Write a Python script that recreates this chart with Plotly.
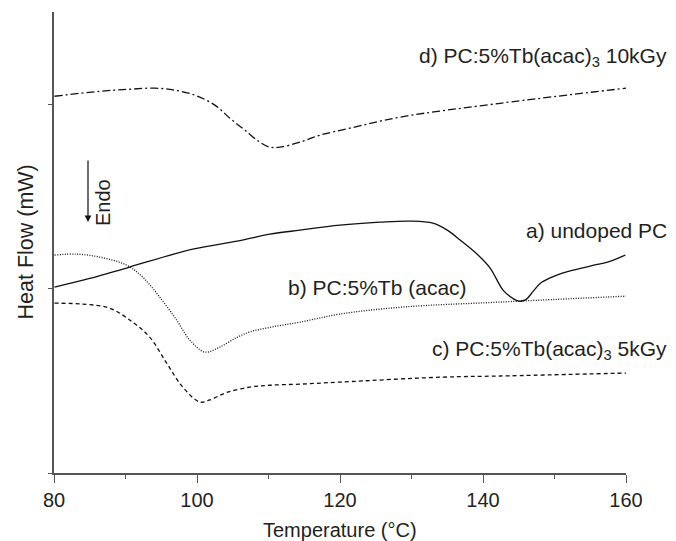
import plotly.graph_objects as go

# Temperature (°C) and heat flow (arbitrary offset units)
a_T = [80.07, 85.0, 90.58, 99.41, 105.6, 110.2, 114.4, 120.0, 125.6, 129.8, 133.0, 135.0, 136.8, 139.3, 141.0, 142.8, 144.1, 145.0, 146.0, 147.0, 148.0, 149.4, 150.8, 152.6, 155.5, 157.4, 159.9]
a_H = [1.008, 1.055, 1.117, 1.214, 1.257, 1.295, 1.317, 1.344, 1.360, 1.366, 1.355, 1.317, 1.263, 1.182, 1.111, 0.992, 0.949, 0.932, 0.940, 0.985, 1.028, 1.058, 1.080, 1.100, 1.127, 1.144, 1.182]

b_T = [80.07, 83.15, 86.38, 90.16, 92.40, 94.78, 97.16, 98.99, 101.09, 103.19, 105.57, 107.39, 110.2, 114.40, 120.0, 128.83, 142.4, 160.0]
b_H = [1.182, 1.187, 1.171, 1.127, 1.062, 0.954, 0.829, 0.721, 0.656, 0.683, 0.735, 0.765, 0.790, 0.818, 0.862, 0.900, 0.927, 0.959]

c_T = [80.07, 84.0, 87.78, 91.0, 93.38, 95.76, 98.0, 100.39, 101.79, 104.17, 107.39, 110.2, 114.4, 120.0, 134.4, 142.4, 160.0]
c_H = [0.921, 0.916, 0.894, 0.818, 0.737, 0.596, 0.466, 0.385, 0.396, 0.437, 0.466, 0.476, 0.482, 0.493, 0.520, 0.526, 0.542]

d_T = [80.07, 86.4, 90.6, 94.1, 96.9, 99.7, 102.5, 104.6, 106.7, 108.8, 110.2, 111.6, 114.4, 117.2, 121.4, 128.4, 142.4, 160.0]
d_H = [2.043, 2.070, 2.081, 2.087, 2.076, 2.049, 1.995, 1.924, 1.859, 1.794, 1.767, 1.767, 1.794, 1.832, 1.870, 1.930, 2.005, 2.087]

x_ticks = [80, 100, 120, 140, 160]
y_ticks = [0, 1, 2]

FONT = "Liberation Sans, Arial, sans-serif"
TXT = "#231f20"

fig = go.Figure()
line_common = dict(color="#111", width=1.3, shape="spline", smoothing=1.0)
fig.add_trace(go.Scatter(x=a_T, y=a_H, mode="lines", line=dict(**line_common, dash="solid")))
fig.add_trace(go.Scatter(x=b_T, y=b_H, mode="lines", line=dict(**line_common, dash="1px,1.5px")))
fig.add_trace(go.Scatter(x=c_T, y=c_H, mode="lines", line=dict(**line_common, dash="4px,3px")))
fig.add_trace(go.Scatter(x=d_T, y=d_H, mode="lines", line=dict(**line_common, dash="8px,3px,2px,3px")))

ann = []
def label(text, px_x, px_y):
    ann.append(dict(text=text, xref="paper", yref="paper",
                    x=(px_x - 54) / 572, y=(473 - px_y) / 461,
                    xanchor="right", yanchor="middle", showarrow=False,
                    font=dict(family=FONT, size=21, color=TXT)))

label("d) PC:5%Tb(acac)<sub>3</sub> 10kGy", 669, 57)
label("a) undoped PC", 669, 230)
label("b) PC:5%Tb (acac)", 469, 287)
label("c) PC:5%Tb(acac)<sub>3</sub> 5kGy", 669, 350)

# Axis titles
ann.append(dict(text="Temperature (°C)", xref="paper", yref="paper", x=0.5, y=(473 - 530) / 461,
                xanchor="center", yanchor="middle", showarrow=False,
                font=dict(family=FONT, size=20, color=TXT)))
ann.append(dict(text="Heat Flow (mW)", xref="paper", yref="paper", x=(25 - 54) / 572, y=0.5,
                xanchor="center", yanchor="middle", showarrow=False, textangle=-90,
                font=dict(family=FONT, size=21.5, color=TXT)))
# Endo arrow
ann.append(dict(text="", x=(88 - 54) / 572, y=(473 - 222) / 461, xref="paper", yref="paper",
                ax=0, ay=-63, axref="pixel", ayref="pixel", showarrow=True,
                arrowhead=2, arrowsize=1.1, arrowwidth=1.2, arrowcolor="#111", standoff=0))
ann.append(dict(text="Endo", xref="paper", yref="paper", x=(103 - 54) / 572, y=(473 - 203) / 461,
                xanchor="center", yanchor="middle", showarrow=False, textangle=-90,
                font=dict(family=FONT, size=20, color=TXT)))

fig.update_layout(
    width=676, height=541,
    margin=dict(l=54, r=50, t=12, b=68),
    paper_bgcolor="white", plot_bgcolor="white",
    showlegend=False,
    annotations=ann,
    xaxis=dict(range=[80, 160], tickvals=x_ticks, ticks="outside", ticklen=8, tickwidth=1.3,
               tickcolor="#555", showline=True, linecolor="#555", linewidth=1.5,
               showgrid=False, zeroline=False, ticklabelstandoff=0,
               tickfont=dict(family=FONT, size=20, color=TXT),
               minor=dict(dtick=10, ticks="outside", ticklen=4, tickwidth=1.3, tickcolor="#555", showgrid=False)),
    yaxis=dict(range=[0, 2.5], tickvals=y_ticks, ticks="outside", ticklen=4, tickwidth=1.3,
               tickcolor="#555", showline=True, linecolor="#555", linewidth=1.5,
               showgrid=False, zeroline=False, showticklabels=False),
)

fig.write_html("out.html", config={"displayModeBar": False},
               post_script="document.body.style.margin='0';document.body.style.overflow='hidden';")
